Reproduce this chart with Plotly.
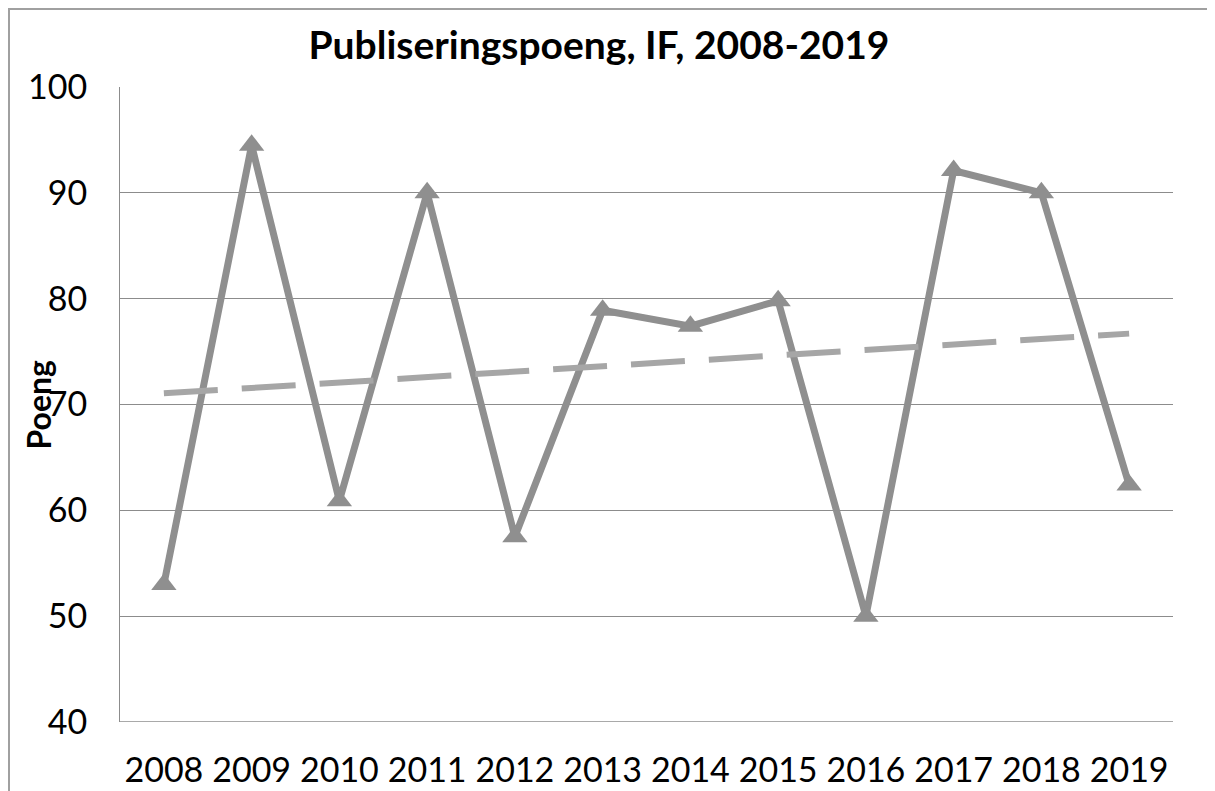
import numpy as np
import plotly.graph_objects as go

years = ["2008", "2009", "2010", "2011", "2012", "2013", "2014", "2015", "2016", "2017", "2018", "2019"]
points = [53.0, 94.5, 60.9, 90.0, 57.5, 78.9, 77.4, 79.8, 50.0, 92.1, 90.0, 62.4]
y_ticks = [40, 50, 60, 70, 80, 90, 100]

# page body has an 8px margin, so the figure is sized to fill the rest
W, H = 1207, 783
L, R, T, B = 112, 42, 79, 69
pw = W - L - R
ph = H - T - B

# linear trendline (least squares, as in the original spreadsheet)
idx = np.arange(len(points))
slope, intercept = np.polyfit(idx, points, 1)
trend = slope * idx + intercept

fig = go.Figure()
fig.add_trace(go.Scatter(
    x=years, y=points, mode="lines+markers",
    line=dict(color="#8f8f8f", width=7),
    marker=dict(symbol="triangle-up", size=22, color="#8f8f8f"),
    showlegend=False, hoverinfo="x+y"))
fig.add_trace(go.Scatter(
    x=[years[0], years[-1]], y=[trend[0], trend[-1]], mode="lines",
    line=dict(color="#a6a6a6", width=6, dash="54px,24px"),
    showlegend=False, hoverinfo="skip"))

font_family = "Lato, 'Open Sans', sans-serif"
fig.update_layout(
    width=W, height=H,
    margin=dict(l=L, r=R, t=T, b=B, autoexpand=False),
    paper_bgcolor="white", plot_bgcolor="white",
    title=dict(text="<b>Publiseringspoeng, IF, 2008-2019</b>",
               x=591 / W, xanchor="center", y=1 - 37 / H, yanchor="middle",
               font=dict(family=font_family, size=39, color="black")),
    xaxis=dict(type="category", range=[-0.5, 11.5], showgrid=False,
               showline=False, ticks="", ticklabelstandoff=25, automargin=False,
               tickfont=dict(family=font_family, size=34, color="black")),
    yaxis=dict(range=[40, 100], tickvals=y_ticks, showgrid=True,
               gridcolor="#8c8c8c", gridwidth=1, zeroline=False,
               showline=True, linecolor="#8c8c8c", linewidth=1, ticks="",
               ticklabelstandoff=25, automargin=False,
               tickfont=dict(family=font_family, size=34, color="black")),
    shapes=[
        dict(type="line", xref="paper", yref="paper", x0=-L / pw, x1=1 + R / pw,
             y0=1 + (T - 1) / ph, y1=1 + (T - 1) / ph,
             line=dict(color="#a0a0a0", width=2)),
        dict(type="line", xref="paper", yref="paper",
             x0=(1 - L) / pw, x1=(1 - L) / pw,
             y0=-B / ph, y1=1 + (T - 1) / ph,
             line=dict(color="#a0a0a0", width=2)),
        dict(type="line", xref="paper", yref="y", x0=0, x1=1, y0=40, y1=40,
             line=dict(color="#8c8c8c", width=1.5)),
    ],
    annotations=[dict(text="<b>Poeng</b>", xref="paper", yref="paper",
                      x=(30 - L) / pw, y=0.5, xanchor="center", yanchor="middle",
                      textangle=-90, showarrow=False,
                      font=dict(family=font_family, size=32, color="black"))],
)

fig.write_html("out.html")
